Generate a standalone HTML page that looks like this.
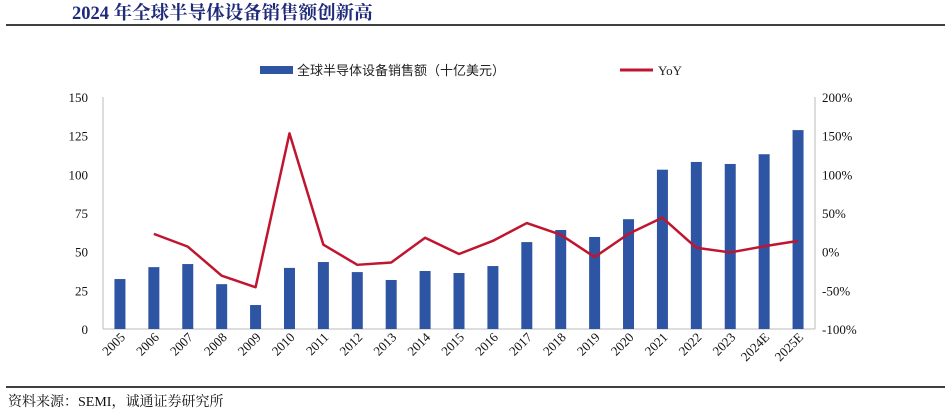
<!DOCTYPE html>
<html><head><meta charset="utf-8"><style>
body{margin:0;background:#fff;}
svg{display:block;font-family:"Liberation Serif","Noto Serif CJK SC",serif;}
</style></head><body>
<svg width="945" height="411" viewBox="0 0 945 411">
<text x="72" y="19" font-size="18.5" font-weight="bold" fill="#1f2a7a">2024 年全球半导体设备销售额创新高</text>
<line x1="6" y1="25" x2="945" y2="25" stroke="#000" stroke-width="1.5"/>
<g>
<rect x="260" y="66" width="33" height="8" fill="#2e55a4"/>
<text x="297" y="75" font-size="13" fill="#222" font-family="Liberation Sans,Noto Sans CJK SC,sans-serif">全球半导体设备销售额（十亿美元）</text>
<line x1="620" y1="70" x2="653" y2="70" stroke="#c0152f" stroke-width="3"/>
<text x="658" y="75" font-size="13" fill="#222">YoY</text>
</g>
<g id="axes"></g>
<g id="bars"></g>
<g id="line"></g>
<line x1="6" y1="387" x2="945" y2="387" stroke="#000" stroke-width="1.5"/>
<text x="8" y="406" font-size="14" fill="#111">资料来源：SEMI，诚通证券研究所</text>
</svg>
<script>
const categories=["2005","2006","2007","2008","2009","2010","2011","2012","2013","2014","2015","2016","2017","2018","2019","2020","2021","2022","2023","2024E","2025E"];
const sales=[32.3,40,42,29,15.5,39.5,43.3,36.8,31.7,37.5,36.2,40.7,56.2,64,59.5,71,103,108,106.7,113,128.6];
const yoy=[null,23,6.5,-31,-46,153,9,-17,-14,18,-3,14,37,22,-7,23,44,5,-1,7,14];
const leftTicks=[0,25,50,75,100,125,150];
const rightTicks=[-100,-50,0,50,100,150,200];
const NS="http://www.w3.org/2000/svg";
const x0=103,x1=815,yTop=97,yBot=329;
const step=(x1-x0)/categories.length;
const xc=i=>x0+step*(i+0.5);
const yL=v=>yBot-(v/150)*(yBot-yTop);
const yR=v=>yBot-((v+100)/300)*(yBot-yTop);
function mk(tag,attrs,parent){const e=document.createElementNS(NS,tag);for(const k in attrs)e.setAttribute(k,attrs[k]);parent.appendChild(e);return e;}
const axes=document.getElementById('axes');
let a=mk('line',{x1:x0,y1:yTop,x2:x0,y2:yBot,stroke:'#bbb'},axes);


a=mk('line',{x1:x1,y1:yTop,x2:x1,y2:yBot,stroke:'#bbb'},axes);


a=mk('line',{x1:x0,y1:yBot,x2:x1,y2:yBot,stroke:'#bbb'},axes);


leftTicks.forEach(v=>{const t=mk('text',{x:88,y:yL(v)+5,'text-anchor':'end','font-size':13,fill:'#111'},axes);t.textContent=v;

});
rightTicks.forEach(v=>{const t=mk('text',{x:822,y:yR(v)+5,'font-size':13,fill:'#111'},axes);t.textContent=v+'%';

});
categories.forEach((c,i)=>{const x=xc(i)+6,y=338;const t=mk('text',{x:x,y:y,'text-anchor':'end','font-size':13,fill:'#111',transform:`rotate(-45 ${x} ${y})`},axes);t.textContent=c;

});
const bars=document.getElementById('bars');
sales.forEach((v,i)=>{const r=mk('rect',{x:xc(i)-5.5,y:yL(v),width:11,height:yBot-yL(v),fill:'#2e55a4'},bars);

});
const pts=[];yoy.forEach((v,i)=>{if(v!==null)pts.push(xc(i)+','+yR(v));});
const pl=mk('polyline',{points:pts.join(' '),fill:'none',stroke:'#c0152f','stroke-width':2.5,'stroke-linejoin':'round'},document.getElementById('line'));


</script>
</body></html>
